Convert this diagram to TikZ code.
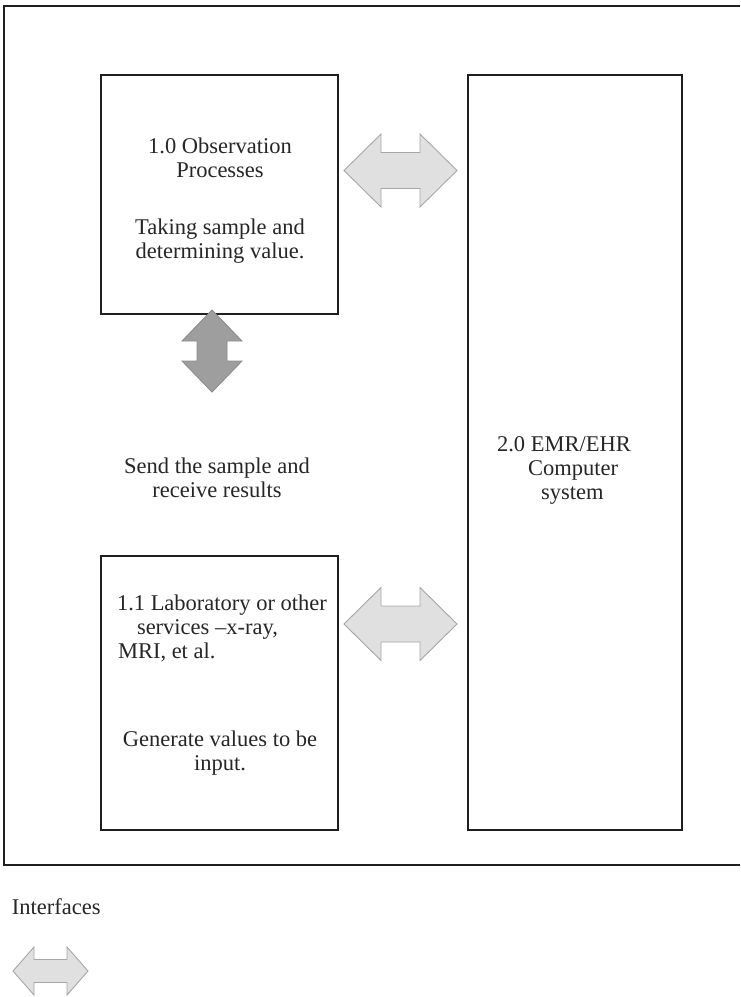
\documentclass[tikz,border=0pt]{standalone}
\usepackage{fontspec}
\setmainfont{Liberation Serif}
\begin{document}
\begin{tikzpicture}[x=1pt,y=-1pt,
  every node/.style={inner sep=0pt,outer sep=0pt},
  frame/.style={draw=black!88,line width=1.3pt},
  box/.style={draw=black!88,line width=1.3pt,rectangle,anchor=north west},
  txt/.style={font=\fontsize{22.5}{24}\selectfont,text=black!85},
  lightarrow/.style={fill=black!12,draw=black!35,line width=0.9pt,line join=miter},
  darkarrow/.style={fill=black!38,draw=black!45,line width=0.9pt,line join=miter}]
\useasboundingbox (0,0) rectangle (740,997);
% outer frame (open at right)
\draw[frame] (740,6) -- (4,6) -- (4,865) -- (740,865);
% boxes
\node[box,minimum width=237pt,minimum height=239pt] (obs) at (101,75) {};
\node[box,minimum width=237pt,minimum height=274pt] (lab) at (101,556) {};
\node[box,minimum width=214pt,minimum height=755pt] (emr) at (468,75) {};
% double arrows: style, cx, cy, half length, head length, head half-width, shaft half-width
\newcommand\HArr[7]{\draw[#1,shift={(#2,#3)}] (-#4,0) -- ({-#4+#5},-#6) -- ({-#4+#5},-#7) -- ({#4-#5},-#7) -- ({#4-#5},-#6) -- (#4,0) -- ({#4-#5},#6) -- ({#4-#5},#7) -- ({-#4+#5},#7) -- ({-#4+#5},#6) -- cycle;}
\newcommand\VArr[7]{\draw[#1,shift={(#2,#3)}] (0,-#4) -- (#6,{-#4+#5}) -- (#7,{-#4+#5}) -- (#7,{#4-#5}) -- (#6,{#4-#5}) -- (0,#4) -- (-#6,{#4-#5}) -- (-#7,{#4-#5}) -- (-#7,{-#4+#5}) -- (-#6,{-#4+#5}) -- cycle;}
\HArr{lightarrow}{400.5}{170.5}{56.5}{37}{36.5}{18}
\HArr{lightarrow}{400.5}{624}{56.5}{37}{36.5}{18}
\VArr{darkarrow}{212}{351}{41}{31}{30}{15}
\HArr{lightarrow}{50.5}{971}{37.5}{21}{24}{11.5}
% texts
\node[txt,anchor=base] (t1) at (220,153) {1.0 Observation};
\node[txt,anchor=base] (t2) at (220,177) {Processes};
\node[txt,anchor=base] (t3) at (220,234) {Taking sample and};
\node[txt,anchor=base] (t4) at (220,258) {determining value.};
\node[txt,anchor=base] (t5) at (217,473) {Send the sample and};
\node[txt,anchor=base] (t6) at (217,497) {receive results};
\node[txt,anchor=base west] (t7) at (117,610) {1.1 Laboratory or other};
\node[txt,anchor=base west] (t8) at (137,634) {services –x-ray,};
\node[txt,anchor=base west] (t9) at (118,658) {MRI, et al.};
\node[txt,anchor=base] (t10) at (220,746) {Generate values to be};
\node[txt,anchor=base] (t11) at (220,770) {input.};
\node[txt,anchor=base west] (t12) at (497,451) {2.0 EMR/EHR};
\node[txt,anchor=base west] (t13) at (528,475) {Computer};
\node[txt,anchor=base west] (t14) at (541,499) {system};
\node[txt,anchor=base west] (t15) at (12,914) {Interfaces};
\end{tikzpicture}
\end{document}
